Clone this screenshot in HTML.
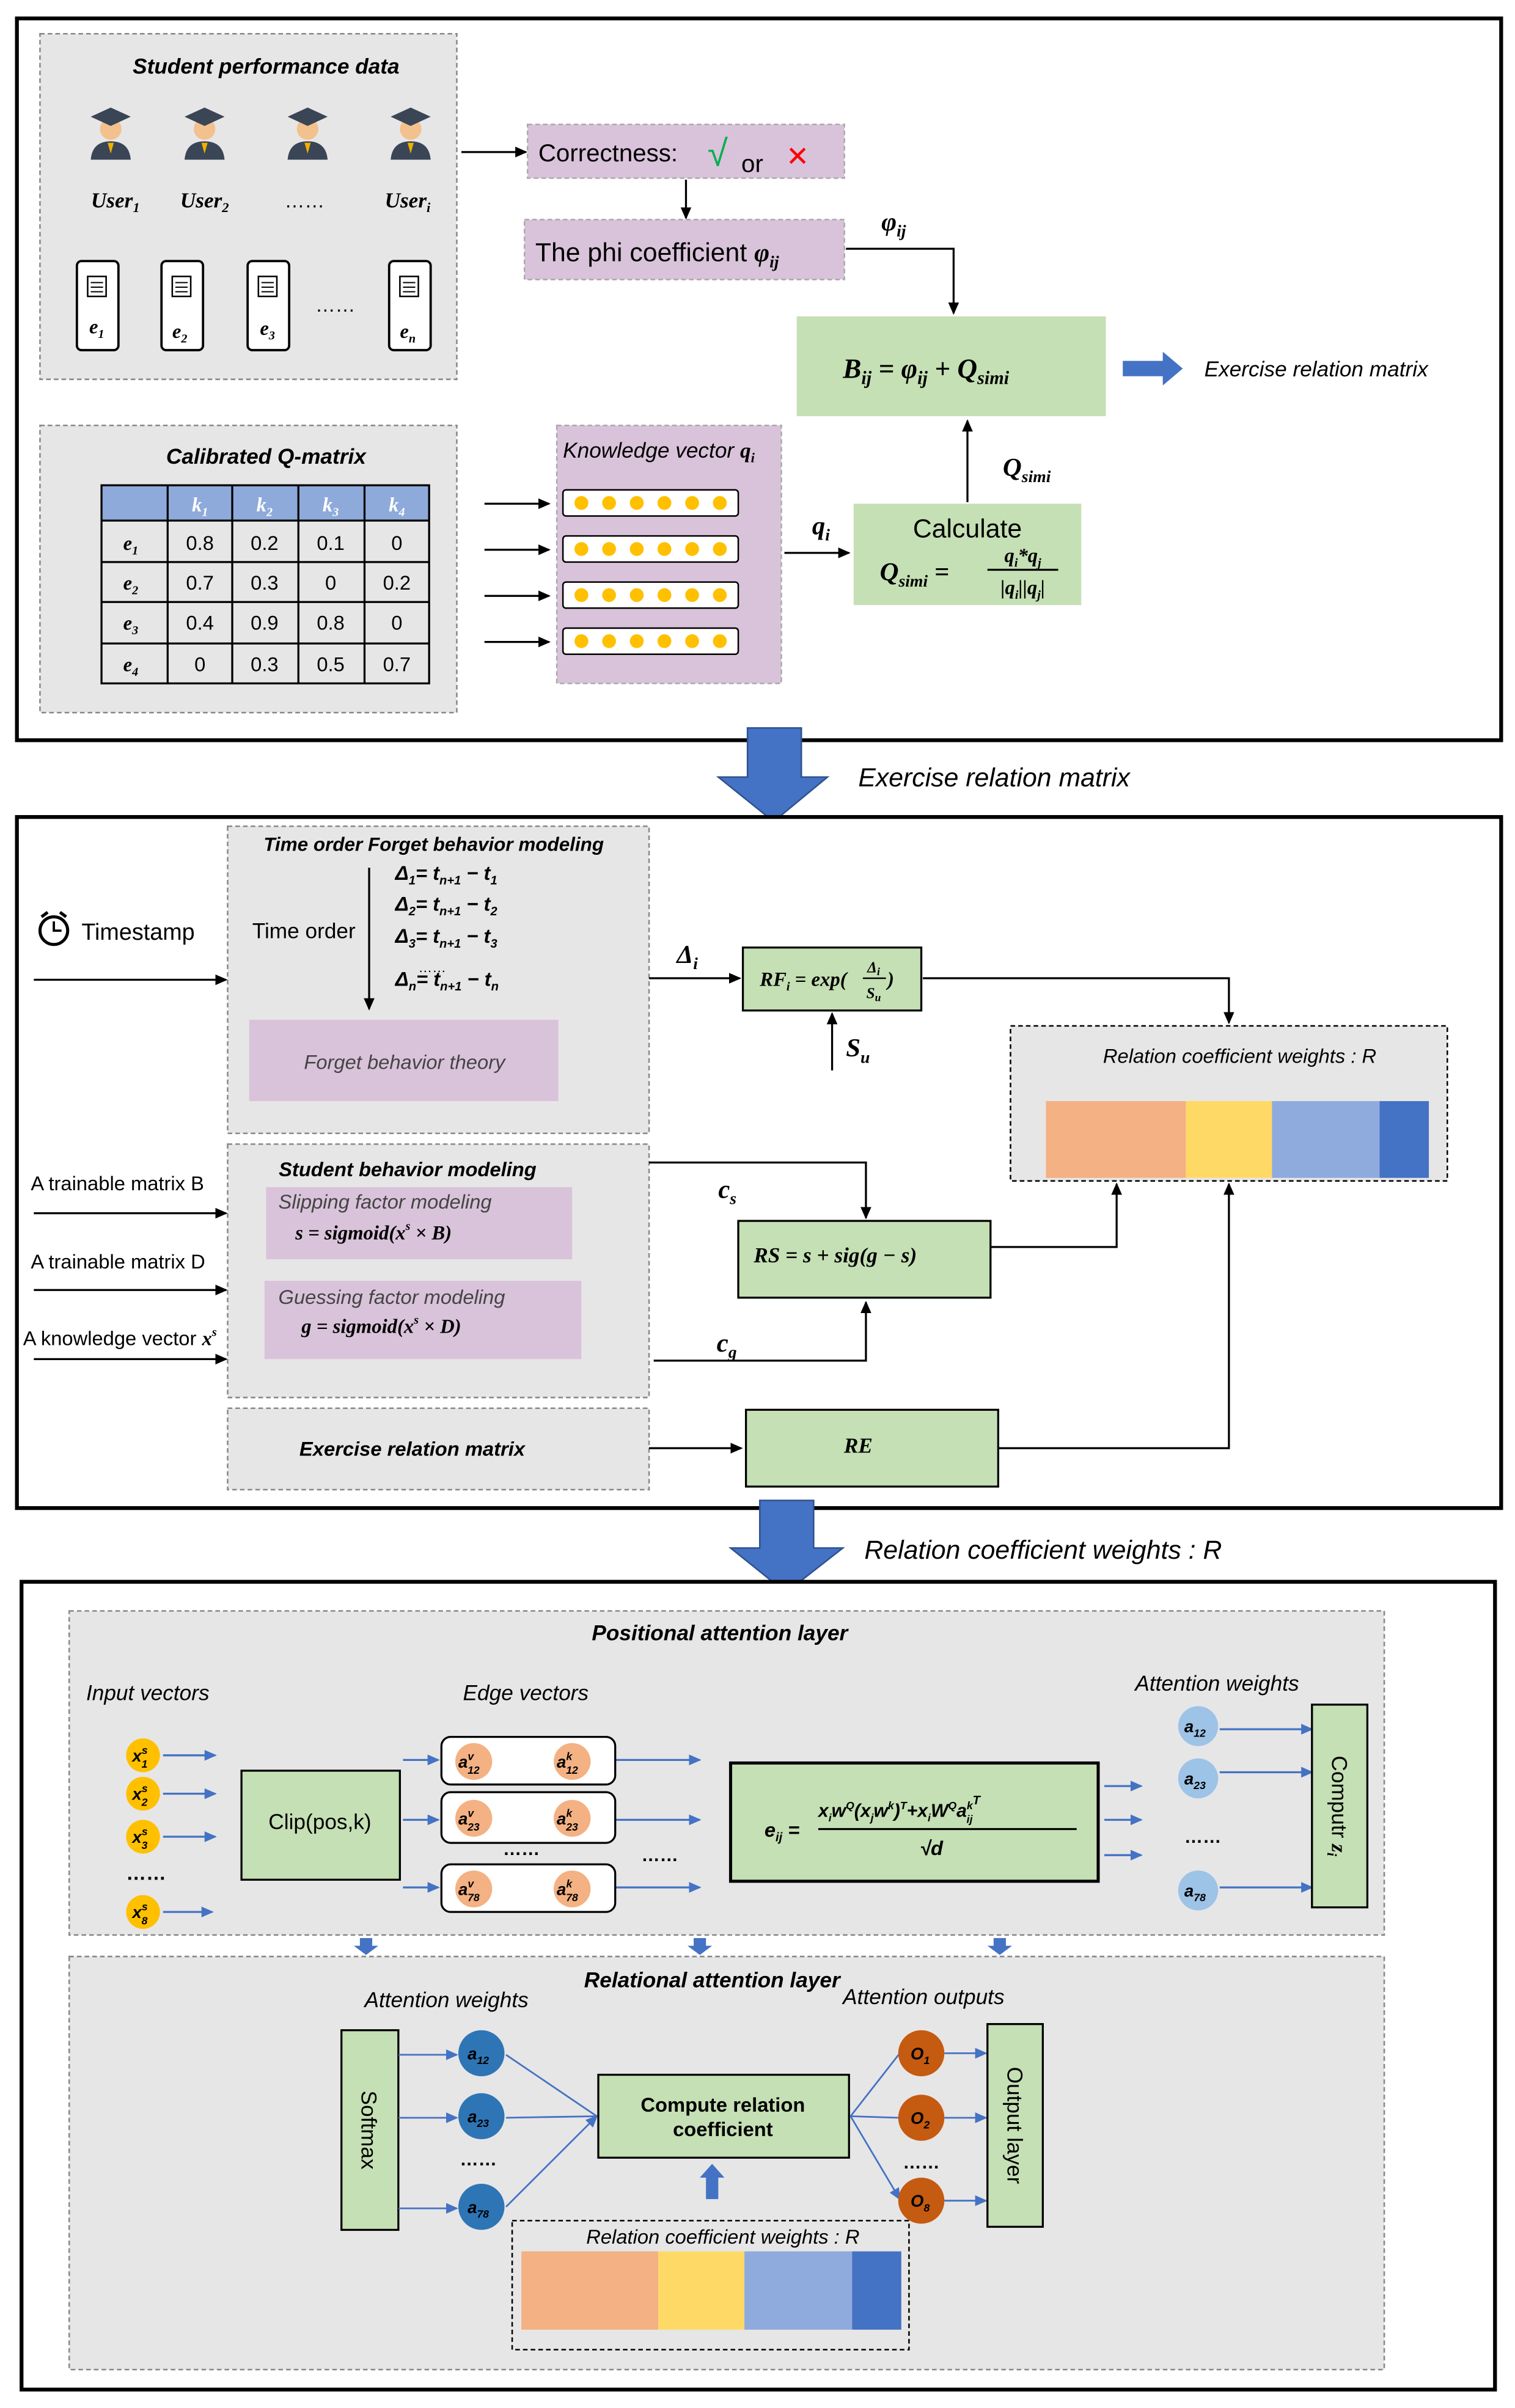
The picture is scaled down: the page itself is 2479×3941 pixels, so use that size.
<!DOCTYPE html>
<html><head><meta charset="utf-8"><style>
html,body{margin:0;padding:0;background:#fff;}
svg{display:block;}
text{font-family:"Liberation Sans",sans-serif;}
.m{font-family:"Liberation Serif",serif;font-style:italic;font-weight:bold;}
.i{font-style:italic;}
.b{font-weight:bold;}
</style></head><body>
<svg width="2479" height="3941" viewBox="0 0 985 1568" preserveAspectRatio="none" xmlns="http://www.w3.org/2000/svg">
<defs>
<marker id="a" markerWidth="8" markerHeight="8" refX="7" refY="4" orient="auto" markerUnits="userSpaceOnUse"><path d="M0,0.5 L8,4 L0,7.5 z" fill="#000"/></marker>
<marker id="ab" markerWidth="8" markerHeight="8" refX="7" refY="4" orient="auto" markerUnits="userSpaceOnUse"><path d="M0,0.5 L8,4 L0,7.5 z" fill="#4472c4"/></marker>
<g id="user"><circle cx="0" cy="-4" r="7" fill="#f2c18d"/><path d="M-13,-12 L0,-18 L13,-12 L0,-6 z" fill="#3a4556"/><path d="M-13,16 Q-12,4 0,4 Q12,4 13,16 z" fill="#3a4556"/><path d="M-2,5 L0,12 L2,5 z" fill="#f0b000"/></g>
<g id="doc"><rect x="0" y="0" width="27" height="58" rx="3" fill="#fff" stroke="#000" stroke-width="1.5"/><rect x="7" y="10" width="12" height="13" fill="#fff" stroke="#000"/><path d="M9,14h8M9,17h8M9,20h8" stroke="#000" stroke-width="0.8"/></g>
<g id="bar"><rect x="0" y="0" width="114" height="17" rx="2" fill="#fff" stroke="#000"/><circle cx="12" cy="8.5" r="4.5" fill="#ffc000"/><circle cx="30" cy="8.5" r="4.5" fill="#ffc000"/><circle cx="48" cy="8.5" r="4.5" fill="#ffc000"/><circle cx="66" cy="8.5" r="4.5" fill="#ffc000"/><circle cx="84" cy="8.5" r="4.5" fill="#ffc000"/><circle cx="102" cy="8.5" r="4.5" fill="#ffc000"/></g>
</defs>

<!-- Section 1 -->
<rect x="11" y="12" width="965" height="470" fill="#fff" stroke="#000" stroke-width="2.5"/>
<rect x="26" y="22" width="271" height="225" fill="#e7e6e6" stroke="#888" stroke-dasharray="3,2"/>
<text x="173" y="48" font-size="14" class="i b" text-anchor="middle">Student performance data</text>
<use href="#user" x="72" y="88"/><use href="#user" x="133" y="88"/><use href="#user" x="200" y="88"/><use href="#user" x="267" y="88"/>
<text x="75" y="135" class="m" font-size="14" text-anchor="middle">User<tspan font-size="9" dy="3">1</tspan></text>
<text x="133" y="135" class="m" font-size="14" text-anchor="middle">User<tspan font-size="9" dy="3">2</tspan></text>
<text x="198" y="135" font-size="13" text-anchor="middle">……</text>
<text x="265" y="135" class="m" font-size="14" text-anchor="middle">User<tspan font-size="9" dy="3">i</tspan></text>
<use href="#doc" x="50" y="170"/><use href="#doc" x="105" y="170"/><use href="#doc" x="161" y="170"/><use href="#doc" x="253" y="170"/>
<text x="58" y="217" class="m" font-size="13">e<tspan font-size="8" dy="3">1</tspan></text>
<text x="112" y="220" class="m" font-size="13">e<tspan font-size="8" dy="3">2</tspan></text>
<text x="169" y="218" class="m" font-size="13">e<tspan font-size="8" dy="3">3</tspan></text>
<text x="260" y="220" class="m" font-size="13">e<tspan font-size="8" dy="3">n</tspan></text>
<text x="218" y="203" font-size="13" text-anchor="middle">……</text>
<line x1="300" y1="99" x2="342" y2="99" stroke="#000" stroke-width="1.3" marker-end="url(#a)"/>
<rect x="343" y="81" width="206" height="35" fill="#d9c3da" stroke="#aaa" stroke-dasharray="3,2"/>
<text x="350" y="105" font-size="16">Correctness:</text>
<text x="460" y="108" font-size="24" fill="#00b050">√</text>
<text x="482" y="112" font-size="16">or</text>
<text x="511" y="108" font-size="18" fill="#f00">✕</text>
<line x1="446" y1="117" x2="446" y2="142" stroke="#000" stroke-width="1.3" marker-end="url(#a)"/>
<rect x="341" y="143" width="208" height="39" fill="#d9c3da" stroke="#aaa" stroke-dasharray="3,2"/>
<text x="348" y="170" font-size="17">The phi coefficient <tspan class="m">φ<tspan font-size="11" dy="4">ij</tspan></tspan></text>
<text x="573" y="150" class="m" font-size="17">φ<tspan font-size="11" dy="4">ij</tspan></text>
<polyline points="550,162 620,162 620,204" fill="none" stroke="#000" stroke-width="1.3" marker-end="url(#a)"/>
<rect x="518" y="206" width="201" height="65" fill="#c5e0b4"/>
<text x="548" y="246" class="m" font-size="18">B<tspan font-size="12" dy="4">ij</tspan><tspan dy="-4"> =  φ</tspan><tspan font-size="12" dy="4">ij</tspan><tspan dy="-4"> + Q</tspan><tspan font-size="12" dy="4">simi</tspan></text>
<path d="M730,235 H756 V229 L769,240 L756,251 V245 H730 z" fill="#4472c4"/>
<text x="783" y="245" font-size="14" class="i">Exercise relation matrix</text>

<rect x="26" y="277" width="271" height="187" fill="#e7e6e6" stroke="#888" stroke-dasharray="3,2"/>
<text x="173" y="302" font-size="14" class="i b" text-anchor="middle">Calibrated Q-matrix</text>
<rect x="66" y="316" width="213" height="23" fill="#8eaadb"/>
<g stroke="#000" stroke-width="1.3" fill="none">
<rect x="66" y="316" width="213" height="129"/>
<line x1="66" y1="339" x2="279" y2="339"/><line x1="66" y1="366" x2="279" y2="366"/><line x1="66" y1="392" x2="279" y2="392"/><line x1="66" y1="419" x2="279" y2="419"/>
<line x1="109" y1="316" x2="109" y2="445"/><line x1="151" y1="316" x2="151" y2="445"/><line x1="194" y1="316" x2="194" y2="445"/><line x1="237" y1="316" x2="237" y2="445"/>
</g>
<g font-size="13" text-anchor="middle">
<text x="130" y="333" class="m" fill="#fff">k<tspan font-size="8" dy="3">1</tspan></text><text x="172" y="333" class="m" fill="#fff">k<tspan font-size="8" dy="3">2</tspan></text><text x="215" y="333" class="m" fill="#fff">k<tspan font-size="8" dy="3">3</tspan></text><text x="258" y="333" class="m" fill="#fff">k<tspan font-size="8" dy="3">4</tspan></text>
<text x="85" y="358" class="m">e<tspan font-size="8" dy="3">1</tspan></text><text x="130" y="358">0.8</text><text x="172" y="358">0.2</text><text x="215" y="358">0.1</text><text x="258" y="358">0</text>
<text x="85" y="384" class="m">e<tspan font-size="8" dy="3">2</tspan></text><text x="130" y="384">0.7</text><text x="172" y="384">0.3</text><text x="215" y="384">0</text><text x="258" y="384">0.2</text>
<text x="85" y="410" class="m">e<tspan font-size="8" dy="3">3</tspan></text><text x="130" y="410">0.4</text><text x="172" y="410">0.9</text><text x="215" y="410">0.8</text><text x="258" y="410">0</text>
<text x="85" y="437" class="m">e<tspan font-size="8" dy="3">4</tspan></text><text x="130" y="437">0</text><text x="172" y="437">0.3</text><text x="215" y="437">0.5</text><text x="258" y="437">0.7</text>
</g>
<g stroke="#000" stroke-width="1.3" marker-end="url(#a)">
<line x1="315" y1="328" x2="357" y2="328"/><line x1="315" y1="358" x2="357" y2="358"/><line x1="315" y1="388" x2="357" y2="388"/><line x1="315" y1="418" x2="357" y2="418"/>
</g>
<rect x="362" y="277" width="146" height="168" fill="#d9c3da" stroke="#aaa" stroke-dasharray="3,2"/>
<text x="366" y="298" font-size="14" class="i">Knowledge vector <tspan class="m">q<tspan font-size="9" dy="3">i</tspan></tspan></text>
<use href="#bar" x="366" y="319"/><use href="#bar" x="366" y="349"/><use href="#bar" x="366" y="379"/><use href="#bar" x="366" y="409"/>
<line x1="510" y1="360" x2="552" y2="360" stroke="#000" stroke-width="1.3" marker-end="url(#a)"/>
<text x="528" y="348" class="m" font-size="17">q<tspan font-size="11" dy="4">i</tspan></text>
<rect x="555" y="328" width="148" height="66" fill="#c5e0b4"/>
<text x="629" y="350" font-size="17" text-anchor="middle">Calculate</text>
<text x="572" y="378" class="m" font-size="17">Q<tspan font-size="11" dy="4">simi</tspan><tspan dy="-4"> =</tspan></text>
<text x="665" y="366" class="m" font-size="13" text-anchor="middle">q<tspan font-size="8" dy="3">i</tspan><tspan dy="-3">*q</tspan><tspan font-size="8" dy="3">j</tspan></text>
<line x1="642" y1="371" x2="688" y2="371" stroke="#000" stroke-width="1.3"/>
<text x="665" y="387" class="m" font-size="13" text-anchor="middle">|q<tspan font-size="8" dy="3">i</tspan><tspan dy="-3">||q</tspan><tspan font-size="8" dy="3">j</tspan><tspan dy="-3">|</tspan></text>
<line x1="629" y1="327" x2="629" y2="274" stroke="#000" stroke-width="1.3" marker-end="url(#a)"/>
<text x="652" y="310" class="m" font-size="17">Q<tspan font-size="11" dy="4">simi</tspan></text>

<!-- Arrow 1 -->
<path d="M486,474 H521 V506 H538 L503,535 L467,506 H486 z" fill="#4472c4" stroke="#2f528f"/>
<text x="558" y="512" font-size="17" class="i">Exercise relation matrix</text>

<!-- Section 2 -->
<rect x="11" y="532" width="965" height="450" fill="#fff" stroke="#000" stroke-width="2.5"/>
<rect x="148" y="538" width="274" height="200" fill="#e7e6e6" stroke="#888" stroke-dasharray="3,2"/>
<text x="282" y="554" font-size="12.5" class="i b" text-anchor="middle">Time order Forget behavior modeling</text>
<text x="164" y="611" font-size="14">Time order</text>
<line x1="240" y1="565" x2="240" y2="657" stroke="#000" stroke-width="1.3" marker-end="url(#a)"/>
<g class="m" font-size="13">
<text x="257" y="573">Δ<tspan font-size="8" dy="3">1</tspan><tspan dy="-3">= t</tspan><tspan font-size="8" dy="3">n+1</tspan><tspan dy="-3"> − t</tspan><tspan font-size="8" dy="3">1</tspan></text>
<text x="257" y="593">Δ<tspan font-size="8" dy="3">2</tspan><tspan dy="-3">= t</tspan><tspan font-size="8" dy="3">n+1</tspan><tspan dy="-3"> − t</tspan><tspan font-size="8" dy="3">2</tspan></text>
<text x="257" y="614">Δ<tspan font-size="8" dy="3">3</tspan><tspan dy="-3">= t</tspan><tspan font-size="8" dy="3">n+1</tspan><tspan dy="-3"> − t</tspan><tspan font-size="8" dy="3">3</tspan></text>
<text x="257" y="642">Δ<tspan font-size="8" dy="3">n</tspan><tspan dy="-3">= t</tspan><tspan font-size="8" dy="3">n+1</tspan><tspan dy="-3"> − t</tspan><tspan font-size="8" dy="3">n</tspan></text>
</g>
<text x="272" y="633" font-size="9">……</text>
<rect x="162" y="664" width="201" height="53" fill="#d9c3da"/>
<text x="263" y="696" font-size="13" class="i" text-anchor="middle" fill="#444">Forget behavior theory</text>
<circle cx="35" cy="606" r="9" fill="none" stroke="#000" stroke-width="2"/><path d="M35,600 V606 H40" stroke="#000" fill="none" stroke-width="1.5"/><path d="M27,597 l4,-3 M43,597 l-4,-3" stroke="#000" stroke-width="2"/>
<text x="53" y="612" font-size="15">Timestamp</text>
<line x1="22" y1="638" x2="147" y2="638" stroke="#000" stroke-width="1.3" marker-end="url(#a)"/>
<text x="440" y="627" class="m" font-size="17">Δ<tspan font-size="11" dy="4">i</tspan></text>
<line x1="422" y1="637" x2="481" y2="637" stroke="#000" stroke-width="1.3" marker-end="url(#a)"/>
<rect x="483" y="617" width="116" height="41" fill="#c5e0b4" stroke="#000" stroke-width="1.3"/>
<text x="494" y="642" class="m" font-size="13">RF<tspan font-size="8" dy="3">i</tspan><tspan dy="-3"> = exp(</tspan></text>
<text x="568" y="633" class="m" font-size="10" text-anchor="middle">Δ<tspan font-size="7" dy="2">i</tspan></text>
<line x1="561" y1="637" x2="576" y2="637" stroke="#000"/>
<text x="568" y="650" class="m" font-size="10" text-anchor="middle">S<tspan font-size="7" dy="2">u</tspan></text>
<text x="577" y="642" class="m" font-size="13">)</text>
<polyline points="600,637 799,637 799,666" fill="none" stroke="#000" stroke-width="1.3" marker-end="url(#a)"/>
<line x1="541" y1="697" x2="541" y2="660" stroke="#000" stroke-width="1.3" marker-end="url(#a)"/>
<text x="550" y="688" class="m" font-size="17">S<tspan font-size="11" dy="4">u</tspan></text>
<rect x="657" y="668" width="284" height="101" fill="#e7e6e6" stroke="#000" stroke-dasharray="3,2"/>
<text x="806" y="692" font-size="13" class="i" text-anchor="middle">Relation coefficient weights : R</text>
<rect x="680" y="717" width="91" height="50" fill="#f4b183"/><rect x="771" y="717" width="56" height="50" fill="#ffd966"/><rect x="827" y="717" width="70" height="50" fill="#8faadc"/><rect x="897" y="717" width="32" height="50" fill="#4472c4"/>

<rect x="148" y="745" width="274" height="165" fill="#e7e6e6" stroke="#888" stroke-dasharray="3,2"/>
<text x="265" y="766" font-size="13" class="i b" text-anchor="middle">Student behavior modeling</text>
<rect x="173" y="773" width="199" height="47" fill="#d9c3da"/>
<text x="181" y="787" font-size="13" class="i" fill="#444">Slipping factor modeling</text>
<text x="192" y="807" class="m" font-size="13">s = sigmoid(x<tspan font-size="8" dy="-6">s</tspan><tspan dy="6"> × B)</tspan></text>
<rect x="172" y="834" width="206" height="51" fill="#d9c3da"/>
<text x="181" y="849" font-size="13" class="i" fill="#444">Guessing factor modeling</text>
<text x="196" y="868" class="m" font-size="13">g = sigmoid(x<tspan font-size="8" dy="-6">s</tspan><tspan dy="6"> × D)</tspan></text>
<text x="20" y="775" font-size="13">A trainable matrix B</text>
<line x1="22" y1="790" x2="147" y2="790" stroke="#000" stroke-width="1.3" marker-end="url(#a)"/>
<text x="20" y="826" font-size="13">A trainable matrix D</text>
<line x1="22" y1="840" x2="147" y2="840" stroke="#000" stroke-width="1.3" marker-end="url(#a)"/>
<text x="15" y="876" font-size="13">A knowledge vector <tspan class="m">x<tspan font-size="8" dy="-6">s</tspan></tspan></text>
<line x1="22" y1="885" x2="147" y2="885" stroke="#000" stroke-width="1.3" marker-end="url(#a)"/>
<polyline points="422,757 563,757 563,793" fill="none" stroke="#000" stroke-width="1.3" marker-end="url(#a)"/>
<text x="467" y="780" class="m" font-size="17">c<tspan font-size="11" dy="4">s</tspan></text>
<rect x="480" y="795" width="164" height="50" fill="#c5e0b4" stroke="#000" stroke-width="1.3"/>
<text x="490" y="822" class="m" font-size="14">RS =  s + sig(g − s)</text>
<polyline points="425,886 563,886 563,848" fill="none" stroke="#000" stroke-width="1.3" marker-end="url(#a)"/>
<text x="466" y="880" class="m" font-size="17">c<tspan font-size="11" dy="4">g</tspan></text>
<polyline points="644,812 726,812 726,771" fill="none" stroke="#000" stroke-width="1.3" marker-end="url(#a)"/>
<rect x="148" y="917" width="274" height="53" fill="#e7e6e6" stroke="#888" stroke-dasharray="3,2"/>
<text x="268" y="948" font-size="13" class="i b" text-anchor="middle">Exercise relation matrix</text>
<line x1="422" y1="943" x2="482" y2="943" stroke="#000" stroke-width="1.3" marker-end="url(#a)"/>
<rect x="485" y="918" width="164" height="50" fill="#c5e0b4" stroke="#000" stroke-width="1.3"/>
<text x="558" y="946" font-size="14" class="m" text-anchor="middle" font-weight="normal">RE</text>
<polyline points="649,943 799,943 799,771" fill="none" stroke="#000" stroke-width="1.3" marker-end="url(#a)"/>

<!-- Arrow 2 -->
<path d="M494,977 H529 V1008 H548 L511,1037 L475,1008 H494 z" fill="#4472c4" stroke="#2f528f"/>
<text x="562" y="1015" font-size="17" class="i">Relation coefficient weights : R</text>

<!-- Section 3 -->
<rect x="14" y="1030" width="958" height="526" fill="#fff" stroke="#000" stroke-width="2.5"/>
<rect x="45" y="1049" width="855" height="211" fill="#e7e6e6" stroke="#888" stroke-dasharray="3,2"/>
<text x="468" y="1068" font-size="14" class="i b" text-anchor="middle">Positional attention layer</text>
<text x="56" y="1107" font-size="14" class="i">Input vectors</text>
<text x="301" y="1107" font-size="14" class="i">Edge vectors</text>
<text x="738" y="1101" font-size="14" class="i">Attention weights</text>
<g class="m" font-size="11">
<circle cx="93" cy="1143" r="11" fill="#ffc000"/><text x="86" y="1147">x<tspan font-size="7" dy="-5">s</tspan><tspan font-size="7" dx="-4" dy="9">1</tspan></text>
<circle cx="93" cy="1168" r="11" fill="#ffc000"/><text x="86" y="1172">x<tspan font-size="7" dy="-5">s</tspan><tspan font-size="7" dx="-4" dy="9">2</tspan></text>
<circle cx="93" cy="1196" r="11" fill="#ffc000"/><text x="86" y="1200">x<tspan font-size="7" dy="-5">s</tspan><tspan font-size="7" dx="-4" dy="9">3</tspan></text>
<circle cx="93" cy="1245" r="11" fill="#ffc000"/><text x="86" y="1249">x<tspan font-size="7" dy="-5">s</tspan><tspan font-size="7" dx="-4" dy="9">8</tspan></text>
</g>
<text x="82" y="1224" font-size="13" class="b">……</text>
<g stroke="#4472c4" stroke-width="1.3" marker-end="url(#ab)">
<line x1="106" y1="1143" x2="140" y2="1143"/><line x1="106" y1="1168" x2="140" y2="1168"/><line x1="106" y1="1196" x2="140" y2="1196"/><line x1="106" y1="1245" x2="138" y2="1245"/>
<line x1="262" y1="1146" x2="285" y2="1146"/><line x1="262" y1="1185" x2="285" y2="1185"/><line x1="262" y1="1229" x2="285" y2="1229"/>
<line x1="400" y1="1146" x2="455" y2="1146"/><line x1="400" y1="1185" x2="455" y2="1185"/><line x1="400" y1="1229" x2="455" y2="1229"/>
<line x1="718" y1="1163" x2="742" y2="1163"/><line x1="718" y1="1185" x2="742" y2="1185"/><line x1="718" y1="1208" x2="742" y2="1208"/>
<line x1="793" y1="1126" x2="853" y2="1126"/><line x1="793" y1="1154" x2="853" y2="1154"/><line x1="793" y1="1229" x2="853" y2="1229"/>
</g>
<rect x="157" y="1153" width="103" height="71" fill="#c5e0b4" stroke="#000" stroke-width="1.3"/>
<text x="208" y="1191" font-size="14" text-anchor="middle">Clip(pos,k)</text>
<g class="m" font-size="11">
<rect x="287" y="1131" width="113" height="31" rx="6" fill="#fff" stroke="#000" stroke-width="1.3"/>
<circle cx="308" cy="1147" r="12" fill="#f4b183"/><text x="298" y="1151">a<tspan font-size="7" dy="-5">v</tspan><tspan font-size="7" dx="-4" dy="9">12</tspan></text>
<circle cx="372" cy="1147" r="12" fill="#f4b183"/><text x="362" y="1151">a<tspan font-size="7" dy="-5">k</tspan><tspan font-size="7" dx="-4" dy="9">12</tspan></text>
<rect x="287" y="1167" width="113" height="33" rx="6" fill="#fff" stroke="#000" stroke-width="1.3"/>
<circle cx="308" cy="1184" r="12" fill="#f4b183"/><text x="298" y="1188">a<tspan font-size="7" dy="-5">v</tspan><tspan font-size="7" dx="-4" dy="9">23</tspan></text>
<circle cx="372" cy="1184" r="12" fill="#f4b183"/><text x="362" y="1188">a<tspan font-size="7" dy="-5">k</tspan><tspan font-size="7" dx="-4" dy="9">23</tspan></text>
<rect x="287" y="1214" width="113" height="31" rx="6" fill="#fff" stroke="#000" stroke-width="1.3"/>
<circle cx="308" cy="1230" r="12" fill="#f4b183"/><text x="298" y="1234">a<tspan font-size="7" dy="-5">v</tspan><tspan font-size="7" dx="-4" dy="9">78</tspan></text>
<circle cx="372" cy="1230" r="12" fill="#f4b183"/><text x="362" y="1234">a<tspan font-size="7" dy="-5">k</tspan><tspan font-size="7" dx="-4" dy="9">78</tspan></text>
</g>
<text x="327" y="1208" font-size="12" class="b">……</text>
<text x="417" y="1212" font-size="12" class="b">……</text>
<rect x="475" y="1148" width="239" height="77" fill="#c5e0b4" stroke="#000" stroke-width="2"/>
<g class="m" font-size="13">
<text x="497" y="1196">e<tspan font-size="8" dy="3">ij</tspan><tspan dy="-3"> =</tspan></text>
<text x="532" y="1183" font-size="12">x<tspan font-size="7" dy="3">i</tspan><tspan dy="-3">w</tspan><tspan font-size="7" dy="-5">Q</tspan><tspan dy="5">(x</tspan><tspan font-size="7" dy="3">j</tspan><tspan dy="-3">w</tspan><tspan font-size="7" dy="-5">k</tspan><tspan dy="5">)</tspan><tspan font-size="7" dy="-5">T</tspan><tspan dy="5">+x</tspan><tspan font-size="7" dy="3">i</tspan><tspan dy="-3">W</tspan><tspan font-size="7" dy="-5">Q</tspan><tspan dy="5">a</tspan><tspan font-size="7" dy="-5">k</tspan><tspan font-size="7" dx="-4" dy="9">ij</tspan><tspan font-size="8" dy="-12">T</tspan></text>
<line x1="532" y1="1191" x2="700" y2="1191" stroke="#000" stroke-width="1.3"/>
<text x="598" y="1208">√d</text>
</g>
<g class="m" font-size="11">
<circle cx="779" cy="1124" r="13" fill="#9dc3e6"/><text x="770" y="1128">a<tspan font-size="7" dy="3">12</tspan></text>
<circle cx="779" cy="1158" r="13" fill="#9dc3e6"/><text x="770" y="1162">a<tspan font-size="7" dy="3">23</tspan></text>
<circle cx="779" cy="1231" r="13" fill="#9dc3e6"/><text x="770" y="1235">a<tspan font-size="7" dy="3">78</tspan></text>
</g>
<text x="770" y="1200" font-size="12" class="b">……</text>
<rect x="853" y="1110" width="36" height="132" fill="#c5e0b4" stroke="#000" stroke-width="1.3"/>
<text x="866" y="1176" font-size="14" transform="rotate(90 866 1176)" text-anchor="middle">Computr <tspan class="m">z<tspan font-size="9" dy="3">i</tspan></tspan></text>
<g fill="#4472c4">
<path d="M234,1262 h8 v5 h4 l-8,6 l-8,-6 h4 z"/><path d="M451,1262 h8 v5 h4 l-8,6 l-8,-6 h4 z"/><path d="M646,1262 h8 v5 h4 l-8,6 l-8,-6 h4 z"/>
</g>

<rect x="45" y="1274" width="855" height="269" fill="#e7e6e6" stroke="#888" stroke-dasharray="3,2"/>
<text x="463" y="1294" font-size="14" class="i b" text-anchor="middle">Relational attention layer</text>
<text x="237" y="1307" font-size="14" class="i">Attention weights</text>
<text x="548" y="1305" font-size="14" class="i">Attention outputs</text>
<rect x="222" y="1322" width="37" height="130" fill="#c5e0b4" stroke="#000" stroke-width="1.3"/>
<text x="235" y="1387" font-size="14" transform="rotate(90 235 1387)" text-anchor="middle">Softmax</text>
<g stroke="#4472c4" stroke-width="1.1" fill="none">
<line x1="259" y1="1338" x2="297" y2="1338" marker-end="url(#ab)"/><line x1="259" y1="1379" x2="297" y2="1379" marker-end="url(#ab)"/><line x1="259" y1="1438" x2="297" y2="1438" marker-end="url(#ab)"/>
<line x1="329" y1="1338" x2="388" y2="1378"/><line x1="329" y1="1379" x2="388" y2="1378"/><line x1="329" y1="1437" x2="388" y2="1378" marker-end="url(#ab)"/>
<line x1="553" y1="1378" x2="585" y2="1337"/><line x1="553" y1="1378" x2="584" y2="1379"/><line x1="553" y1="1378" x2="585" y2="1432" marker-end="url(#ab)"/>
<line x1="614" y1="1337" x2="641" y2="1337" marker-end="url(#ab)"/><line x1="614" y1="1379" x2="641" y2="1379" marker-end="url(#ab)"/><line x1="614" y1="1433" x2="641" y2="1433" marker-end="url(#ab)"/>
</g>
<g class="m" font-size="11">
<circle cx="313" cy="1337" r="15" fill="#2e75b6"/><text x="304" y="1341">a<tspan font-size="7" dy="3">12</tspan></text>
<circle cx="313" cy="1378" r="15" fill="#2e75b6"/><text x="304" y="1382">a<tspan font-size="7" dy="3">23</tspan></text>
<circle cx="313" cy="1437" r="15" fill="#2e75b6"/><text x="304" y="1441">a<tspan font-size="7" dy="3">78</tspan></text>
<circle cx="599" cy="1337" r="15" fill="#c55a11"/><text x="592" y="1341">O<tspan font-size="7" dy="3">1</tspan></text>
<circle cx="599" cy="1379" r="15" fill="#c55a11"/><text x="592" y="1383">O<tspan font-size="7" dy="3">2</tspan></text>
<circle cx="599" cy="1433" r="15" fill="#c55a11"/><text x="592" y="1437">O<tspan font-size="7" dy="3">8</tspan></text>
</g>
<text x="299" y="1410" font-size="12" class="b">……</text>
<text x="587" y="1412" font-size="12" class="b">……</text>
<rect x="389" y="1351" width="163" height="54" fill="#c5e0b4" stroke="#000" stroke-width="1.3"/>
<text x="470" y="1375" font-size="13" class="b" text-anchor="middle">Compute relation</text>
<text x="470" y="1391" font-size="13" class="b" text-anchor="middle">coefficient</text>
<rect x="642" y="1318" width="36" height="132" fill="#c5e0b4" stroke="#000" stroke-width="1.3"/>
<text x="655" y="1384" font-size="14" transform="rotate(90 655 1384)" text-anchor="middle">Output layer</text>
<path d="M459,1432 V1418 H455 L463,1409 L471,1418 H467 V1432 z" fill="#4472c4"/>
<rect x="333" y="1446" width="258" height="84" fill="#e7e6e6" stroke="#000" stroke-dasharray="3,2"/>
<text x="470" y="1461" font-size="13" class="i" text-anchor="middle">Relation coefficient weights : R</text>
<rect x="339" y="1466" width="89" height="51" fill="#f4b183"/><rect x="428" y="1466" width="56" height="51" fill="#ffd966"/><rect x="484" y="1466" width="70" height="51" fill="#8faadc"/><rect x="554" y="1466" width="32" height="51" fill="#4472c4"/>
</svg>
</body></html>
